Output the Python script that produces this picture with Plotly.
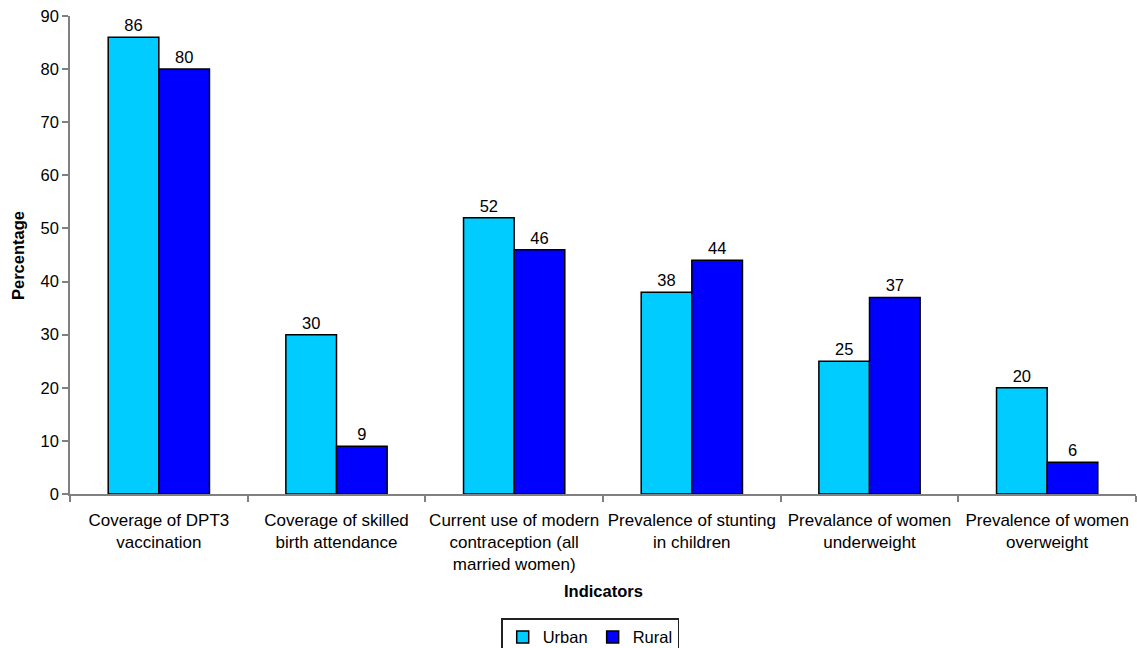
import plotly.graph_objects as go

# Indicator categories (multi-line tick labels)
indicators = [
    "Coverage of DPT3<br>vaccination",
    "Coverage of skilled<br>birth attendance",
    "Current use of modern<br>contraception (all<br>married women)",
    "Prevalence of stunting<br>in children",
    "Prevalance of women<br>underweight",
    "Prevalence of women<br>overweight",
]

# Percentages by residence
urban = [86, 30, 52, 38, 25, 20]
rural = [80, 9, 46, 44, 37, 6]

y_ticks = [0, 10, 20, 30, 40, 50, 60, 70, 80, 90]

font_family = "Liberation Sans, Arial, sans-serif"

fig = go.Figure()
fig.add_trace(go.Bar(
    name="Urban", x=indicators, y=urban,
    marker=dict(color="#00CCFF", line=dict(color="black", width=1.5)),
    text=urban, texttemplate="%{y}", textposition="outside",
    textfont=dict(size=16.5, color="black"), cliponaxis=False,
))
fig.add_trace(go.Bar(
    name="Rural", x=indicators, y=rural,
    marker=dict(color="#0000FF", line=dict(color="black", width=1.5)),
    text=rural, texttemplate="%{y}", textposition="outside",
    textfont=dict(size=16.5, color="black"), cliponaxis=False,
))

fig.update_layout(
    width=1137, height=648,
    margin=dict(l=70, r=1, t=16, b=154),
    paper_bgcolor="white", plot_bgcolor="white",
    font=dict(family=font_family, size=17, color="black"),
    barmode="group", bargap=0.43, bargroupgap=0,
    showlegend=True,
    legend=dict(
        orientation="h", x=0.488, xanchor="center",
        yref="container", y=0.046, yanchor="top",
        bordercolor="#222222", borderwidth=1.5,
        font=dict(size=16.5), itemwidth=30, traceorder="normal",
        tracegroupgap=0,
    ),
    annotations=[
        dict(text="<b>Indicators</b>", xref="paper", yref="paper",
             x=0.5, y=-0.203, xanchor="center", yanchor="middle",
             showarrow=False, font=dict(size=16.5)),
        dict(text="<b>Percentage</b>", xref="paper", yref="paper",
             x=-0.0488, y=0.5, xanchor="center", yanchor="middle",
             textangle=-90, showarrow=False, font=dict(size=16.5)),
    ],
)

fig.update_xaxes(
    type="category", showline=True, linecolor="#808080", linewidth=1.5,
    ticks="outside", tickson="boundaries", ticklen=6, tickcolor="#808080",
    tickwidth=1.5, showgrid=False, tickfont=dict(size=17), tickangle=0,
    ticklabelstandoff=10, automargin=False,
)
fig.update_yaxes(
    range=[0, 90], tickvals=y_ticks, showline=True, linecolor="#808080",
    linewidth=1.5, ticks="outside", ticklen=6, tickcolor="#808080",
    tickwidth=1.5, showgrid=False, zeroline=False, tickfont=dict(size=16.5),
    automargin=False,
)

fig.write_html("out.html")
